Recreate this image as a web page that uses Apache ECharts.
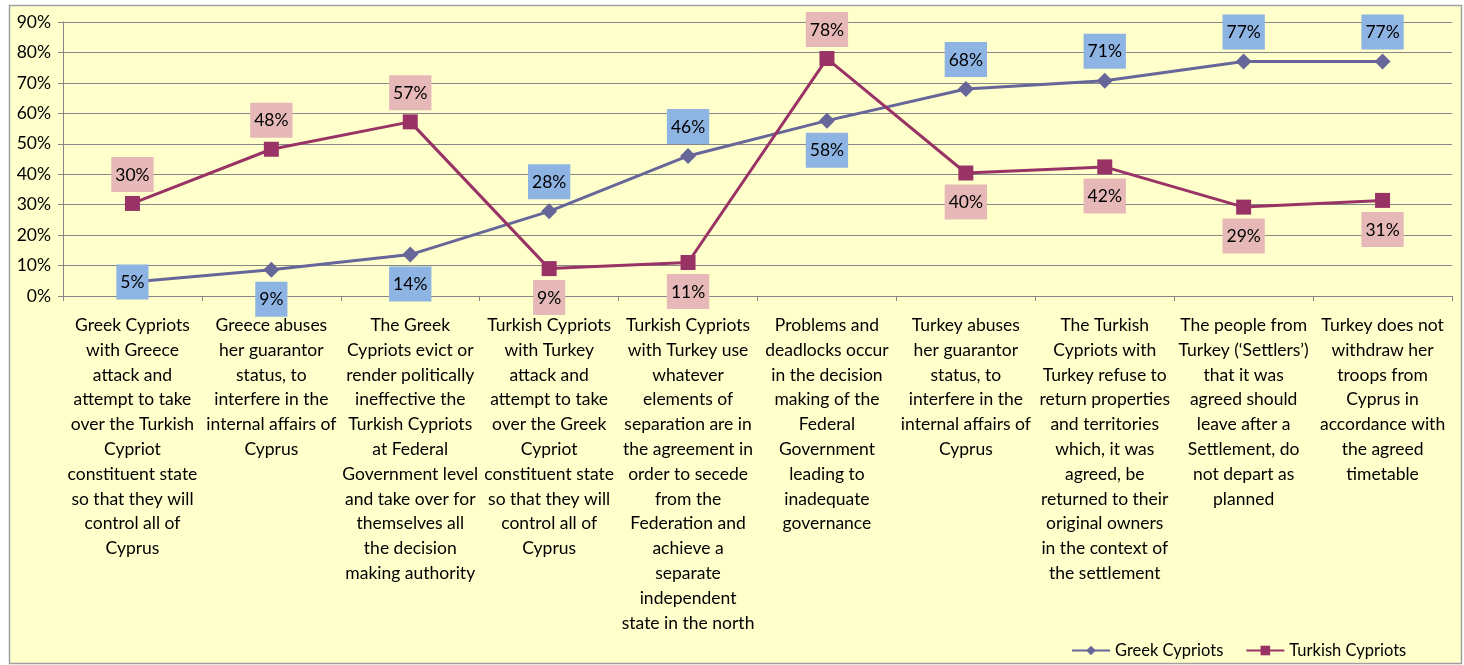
<!DOCTYPE html>
<html><head><meta charset="utf-8">
<script src="https://cdn.jsdelivr.net/npm/echarts@6/dist/echarts.min.js"></script>
<style>html,body{margin:0;padding:0;background:#fff}#c{width:1464px;height:665px}</style>
</head><body><div id="c"></div>
<script>
const categories = [
"Greek Cypriots\nwith Greece\nattack and\nattempt to take\nover the Turkish\nCypriot\nconstituent state\nso that they will\ncontrol all of\nCyprus",
"Greece abuses\nher guarantor\nstatus, to\ninterfere in the\ninternal affairs of\nCyprus",
"The Greek\nCypriots evict or\nrender politically\nineffective the\nTurkish Cypriots\nat Federal\nGovernment level\nand take over for\nthemselves all\nthe decision\nmaking authority",
"Turkish Cypriots\nwith Turkey\nattack and\nattempt to take\nover the Greek\nCypriot\nconstituent state\nso that they will\ncontrol all of\nCyprus",
"Turkish Cypriots\nwith Turkey use\nwhatever\nelements of\nseparation are in\nthe agreement in\norder to secede\nfrom the\nFederation and\nachieve a\nseparate\nindependent\nstate in the north",
"Problems and\ndeadlocks occur\nin the decision\nmaking of the\nFederal\nGovernment\nleading to\ninadequate\ngovernance",
"Turkey abuses\nher guarantor\nstatus, to\ninterfere in the\ninternal affairs of\nCyprus",
"The Turkish\nCypriots with\nTurkey refuse to\nreturn properties\nand territories\nwhich, it was\nagreed, be\nreturned to their\noriginal owners\nin the context of\nthe settlement",
"The people from\nTurkey (\u2018Settlers\u2019)\nthat it was\nagreed should\nleave after a\nSettlement, do\nnot depart as\nplanned",
"Turkey does not\nwithdraw her\ntroops from\nCyprus in\naccordance with\nthe agreed\ntimetable"
];
const greekCypriots = [4.6, 8.6, 13.6, 27.8, 46, 57.6, 68, 70.7, 77, 77];
const turkishCypriots = [30.4, 48.2, 57.2, 9.0, 11.0, 78, 40.4, 42.4, 29.2, 31.4];
const yTicks = [0, 10, 20, 30, 40, 50, 60, 70, 80, 90];

const greekLabelPos = ['inside','bottom','bottom','top','top','bottom','top','top','top','top'];
const turkishLabelPos = ['top','top','top','bottom','bottom','top','bottom','bottom','bottom','bottom'];

const FONT = 'Lato';
function mk(vals, pos, bg) {
  return vals.map((v, i) => ({
    value: v,
    label: {
      show: true, position: pos[i], distance: 4,
      backgroundColor: bg, padding: [8, 4, 7, 4],
      color: '#000', fontFamily: FONT, fontSize: 17.5, lineHeight: 20,
      formatter: p => Math.round(p.value) + '%'
    }
  }));
}

const chart = echarts.init(document.getElementById('c'), null, {renderer: 'canvas'});
chart.setOption({
  backgroundColor: '#ffffff',
  animation: false,
  graphic: [{
    type: 'rect', z: -10, silent: true,
    shape: {x: 9.5, y: 5.5, width: 1452, height: 658},
    style: {fill: '#FFFFCC', stroke: '#A0A0A0', lineWidth: 1.5}
  }],
  grid: {left: 63, right: 12, top: 22, bottom: 369, containLabel: false},
  legend: {
    left: 1066, top: 637, itemWidth: 38, itemHeight: 12, itemGap: 22,
    textStyle: {fontFamily: FONT, fontSize: 16.5, color: '#000'},
    data: ['Greek Cypriots', 'Turkish Cypriots']
  },
  xAxis: {
    type: 'category', data: categories, boundaryGap: true,
    axisLine: {lineStyle: {color: '#868686', width: 1}},
    axisTick: {show: true, length: 5, lineStyle: {color: '#868686'}},
    axisLabel: {interval: 0, margin: 17, color: '#000', fontFamily: FONT, fontSize: 17.5, lineHeight: 24.8, align: 'center', verticalAlign: 'top'}
  },
  yAxis: {
    type: 'value', min: 0, max: 90, interval: 10,
    axisLine: {show: true, lineStyle: {color: '#868686', width: 1}},
    axisTick: {show: true, length: 5, lineStyle: {color: '#868686'}},
    splitLine: {show: true, lineStyle: {color: '#878787', width: 1}},
    axisLabel: {margin: 12, color: '#000', fontFamily: FONT, fontSize: 17.5,
      formatter: v => (yTicks.includes(v) ? v + '%' : '')}
  },
  series: [
    {
      name: 'Greek Cypriots', type: 'line', data: mk(greekCypriots, greekLabelPos, '#8EB4E3'),
      symbol: 'diamond', symbolSize: 16, showAllSymbol: true,
      lineStyle: {color: '#666699', width: 3}, itemStyle: {color: '#666699'}, z: 3
    },
    {
      name: 'Turkish Cypriots', type: 'line', data: mk(turkishCypriots, turkishLabelPos, '#E6B9B8'),
      symbol: 'rect', symbolSize: 15, showAllSymbol: true,
      lineStyle: {color: '#993366', width: 3}, itemStyle: {color: '#993366'}, z: 4
    }
  ]
});
</script></body></html>
